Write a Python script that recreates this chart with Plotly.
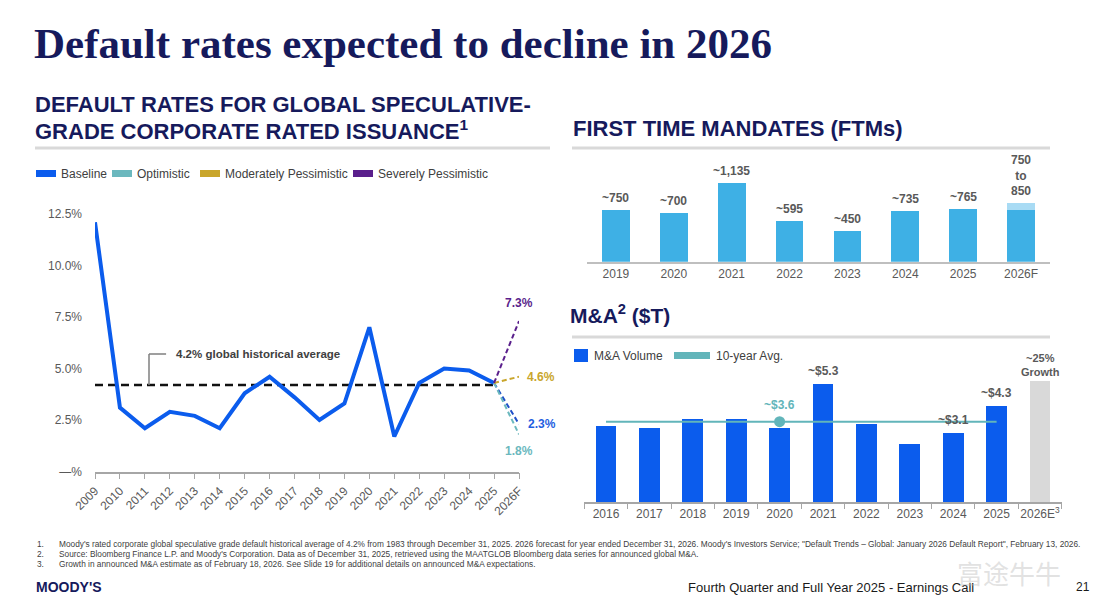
import plotly.graph_objects as go

W, H = 1107, 610


def px(x):
    return x / W


def py(y):
    return 1 - y / H


SANS = "Arial, Liberation Sans, sans-serif"
SERIF = "Times New Roman, Liberation Serif, serif"
NAVY = "#161a5c"
GRAY = "#595959"
DARK = "#404040"

# ---------------- data: default rates ----------------
default_years = ["2009", "2010", "2011", "2012", "2013", "2014", "2015", "2016", "2017",
                 "2018", "2019", "2020", "2021", "2022", "2023", "2024", "2025", "2026F"]
baseline_rates = [12.1, 3.1, 2.1, 2.9, 2.7, 2.1, 3.8, 4.6, 3.6, 2.5, 3.3, 7.0, 1.7, 4.3, 5.0, 4.9, 4.3]
historical_avg = 4.2
scenario_names = ["Baseline", "Optimistic", "Moderately Pessimistic", "Severely Pessimistic"]
scenario_2026 = [2.3, 1.8, 4.6, 7.3]
scenario_labels = ["2.3%", "1.8%", "4.6%", "7.3%"]
rate_ticks = [0, 2.5, 5.0, 7.5, 10.0, 12.5]
rate_ticktext = ["—%", "2.5%", "5.0%", "7.5%", "10.0%", "12.5%"]

# ---------------- data: first time mandates ----------------
ftm_years = ["2019", "2020", "2021", "2022", "2023", "2024", "2025", "2026F"]
ftm_values = [750, 700, 1135, 595, 450, 735, 765, 750]
ftm_2026_high = 850
ftm_labels = ["~750", "~700", "~1,135", "~595", "~450", "~735", "~765", "750<br>to<br>850"]

# ---------------- data: M&A ----------------
ma_years = ["2016", "2017", "2018", "2019", "2020", "2021", "2022", "2023", "2024", "2025", "2026E"]
ma_ticktext = ["2016", "2017", "2018", "2019", "2020", "2021", "2022", "2023", "2024", "2025",
               "2026E<sup>3</sup>"]
ma_volume = [3.4, 3.3, 3.7, 3.7, 3.3, 5.3, 3.5, 2.6, 3.1, 4.3]
ma_2026e = 5.4
ma_10yr_avg = 3.6
ma_labels = {"2021": "~$5.3", "2024": "~$3.1", "2025": "~$4.3"}
ma_2026e_label = "~25%<br>Growth"
ma_avg_year = "2020"
ma_avg_label = "~$3.6"

# ---------------- styles ----------------
scenario_colors = ["#2050c8", "#6bb8be", "#c9a62c", "#5a1f8c"]
legend_colors = ["#0b5ced", "#6bb8be", "#c9a62c", "#5a1f8c"]
label_colors = ["#1f5fe0", "#6bb8be", "#c9a62c", "#5a1f8c"]
BLUE = "#0b5ced"
SKY = "#3eb0e5"
SKY_LIGHT = "#a8dbf4"
TEAL = "#62b5ba"

fig = go.Figure()

# ---- default rate chart ----
fig.add_trace(go.Scatter(
    x=default_years[:-1], y=[historical_avg] * (len(default_years) - 1),
    mode="lines", line=dict(color="#111111", width=2.5, dash="8px,5px"),
    xaxis="x", yaxis="y", hoverinfo="skip"))
fig.add_trace(go.Scatter(
    x=default_years[:-1], y=baseline_rates, mode="lines",
    line=dict(color=BLUE, width=4), xaxis="x", yaxis="y"))
for name, val, col in zip(scenario_names, scenario_2026, scenario_colors):
    fig.add_trace(go.Scatter(
        x=[default_years[-2], default_years[-1]], y=[baseline_rates[-1], val],
        mode="lines", line=dict(color=col, width=2, dash="5px,3px"),
        name=name, xaxis="x", yaxis="y"))

# ---- FTM chart ----
fig.add_trace(go.Bar(x=ftm_years, y=ftm_values, marker=dict(color=SKY, line=dict(width=0)),
                     width=0.48, xaxis="x2", yaxis="y2"))
fig.add_trace(go.Bar(x=[ftm_years[-1]], y=[ftm_2026_high - ftm_values[-1]],
                     marker=dict(color=SKY_LIGHT, line=dict(width=0)),
                     width=0.48, xaxis="x2", yaxis="y2"))

# ---- M&A chart ----
fig.add_trace(go.Bar(x=ma_years[:-1], y=ma_volume, marker=dict(color=BLUE, line=dict(width=0)),
                     width=0.48, xaxis="x3", yaxis="y3"))
fig.add_trace(go.Bar(x=[ma_years[-1]], y=[ma_2026e], marker=dict(color="#d9d9d9", line=dict(width=0)),
                     width=0.48, xaxis="x3", yaxis="y3"))
fig.add_trace(go.Scatter(x=ma_years[:-1], y=[ma_10yr_avg] * len(ma_volume), mode="lines",
                         line=dict(color=TEAL, width=2), xaxis="x3", yaxis="y3"))
fig.add_trace(go.Scatter(x=[ma_avg_year], y=[ma_10yr_avg], mode="markers",
                         marker=dict(color=TEAL, size=11), xaxis="x3", yaxis="y3"))

annotations = []
shapes = []


def text(x, y, s, size=12, color=DARK, bold=False, family=SANS, xanchor="left", yanchor="middle"):
    annotations.append(dict(
        x=px(x), y=py(y), xref="paper", yref="paper", text=("<b>%s</b>" % s) if bold else s,
        showarrow=False, xanchor=xanchor, yanchor=yanchor,
        font=dict(size=size, color=color, family=family)))


# titles
text(32, 43, "Default rates expected to decline in 2026", size=43, color=NAVY, bold=True, family=SERIF)
text(33, 105, "DEFAULT RATES FOR GLOBAL SPECULATIVE-", size=22, color=NAVY, bold=True)
text(33, 130, "GRADE CORPORATE RATED ISSUANCE<sup>1</sup>", size=22, color=NAVY, bold=True)
text(571, 128, "FIRST TIME MANDATES (FTMs)", size=22, color=NAVY, bold=True)
text(568, 314, "M&A<sup>2</sup> ($T)", size=21, color=NAVY, bold=True)

for x0, x1, yy in [(35, 550, 148), (572, 1050, 148), (572, 1050, 337)]:
    shapes.append(dict(type="line", xref="paper", yref="paper", x0=px(x0), x1=px(x1),
                       y0=py(yy), y1=py(yy), line=dict(color="#d9d9d9", width=3)))

# default legend
leg_x = [36, 112, 200, 353]
for lx, name, col in zip(leg_x, scenario_names, legend_colors):
    shapes.append(dict(type="rect", xref="paper", yref="paper", x0=px(lx), x1=px(lx + 20),
                       y0=py(177), y1=py(170), fillcolor=col, line=dict(width=0)))
    text(lx + 23, 174, name, size=12, color=DARK)

# historical average callout
shapes.append(dict(type="line", xref="x", yref="y", x0=2.165, x1=2.165, y0=historical_avg, y1=5.7,
                   line=dict(color="#7f7f7f", width=1.5)))
shapes.append(dict(type="line", xref="x", yref="y", x0=2.165, x1=2.85, y0=5.7, y1=5.7,
                   line=dict(color="#7f7f7f", width=1.5)))
annotations.append(dict(x=3.17, y=5.7, xref="x", yref="y", showarrow=False, xanchor="left",
                        text="<b>4.2% global historical average</b>",
                        font=dict(size=11.5, color=DARK, family=SANS)))

# scenario end labels
label_pos = {  # xanchor, xshift, yshift
    "Baseline": ("left", 7, 0),
    "Optimistic": ("center", 0, -17),
    "Moderately Pessimistic": ("left", 6, 0),
    "Severely Pessimistic": ("center", 0, 18),
}
last_idx = len(default_years) - 1
for name, val, lab, col in zip(scenario_names, scenario_2026, scenario_labels, label_colors):
    xa, xs, ys = label_pos[name]
    annotations.append(dict(x=last_idx, y=val, xref="x", yref="y", showarrow=False,
                            xanchor=xa, xshift=xs, yshift=ys, text="<b>%s</b>" % lab,
                            font=dict(size=12, color=col, family=SANS)))

# FTM labels (category serial numbers as x)
for i, (val, lab) in enumerate(zip(ftm_values, ftm_labels)):
    top = ftm_2026_high if i == len(ftm_values) - 1 else val
    annotations.append(dict(x=i, y=top, xref="x2", yref="y2", showarrow=False,
                            xanchor="center", yanchor="bottom", yshift=3,
                            text="<b>%s</b>" % lab, font=dict(size=12, color=GRAY, family=SANS)))

# M&A legend
shapes.append(dict(type="rect", xref="paper", yref="paper", x0=px(574), x1=px(588),
                   y0=py(362), y1=py(349), fillcolor=BLUE, line=dict(width=0)))
text(592, 356, "M&A Volume", size=12, color=DARK)
shapes.append(dict(type="rect", xref="paper", yref="paper", x0=px(674), x1=px(710),
                   y0=py(359), y1=py(352), fillcolor=TEAL, line=dict(width=0)))
text(714, 356, "10-year Avg.", size=12, color=DARK)

# M&A labels
for i, (yr, val) in enumerate(zip(ma_years[:-1], ma_volume)):
    if yr in ma_labels:
        annotations.append(dict(x=i, y=val, xref="x3", yref="y3", showarrow=False,
                                xanchor="center", yanchor="bottom", yshift=4,
                                text="<b>%s</b>" % ma_labels[yr],
                                font=dict(size=12, color=GRAY, family=SANS)))
annotations.append(dict(x=len(ma_years) - 1, y=ma_2026e, xref="x3", yref="y3", showarrow=False,
                        xanchor="center", yanchor="bottom", yshift=1,
                        text="<b>%s</b>" % ma_2026e_label,
                        font=dict(size=11, color=GRAY, family=SANS)))
annotations.append(dict(x=ma_years.index(ma_avg_year), y=ma_10yr_avg, xref="x3", yref="y3",
                        showarrow=False, xanchor="center", yanchor="middle", yshift=17,
                        text="<b>%s</b>" % ma_avg_label,
                        font=dict(size=12, color=TEAL, family=SANS)))

# footnotes
footnotes = [
    "Moody's rated corporate global speculative grade default historical average of 4.2% from 1983 through "
    "December 31, 2025. 2026 forecast for year ended December 31, 2026. Moody's Investors Service; "
    "\"Default Trends – Global: January 2026 Default Report\", February 13, 2026.",
    "Source: Bloomberg Finance L.P. and Moody's Corporation. Data as of December 31, 2025, retrieved using "
    "the MAATGLOB Bloomberg data series for announced global M&A.",
    "Growth in announced M&A estimate as of February 18, 2026. See Slide 19 for additional details on "
    "announced M&A expectations.",
]
for i, fn in enumerate(footnotes):
    yy = 544 + i * 10
    text(35, yy, "%d." % (i + 1), size=8.3, color=DARK)
    text(57, yy, fn, size=8.3, color=DARK)

text(34, 587, "MOODY'S", size=14, color=NAVY, bold=True)
text(686, 587, "Fourth Quarter and Full Year 2025 - Earnings Call", size=13, color="#1a1a1a")
text(1074, 587, "21", size=12, color="#1a1a1a")
text(955, 572, "富途牛牛", size=26, color="rgba(190,190,190,0.45)",
     family="Noto Sans CJK SC, sans-serif")

axis_font = dict(size=12, color=GRAY, family=SANS)

fig.update_layout(
    width=W, height=H, autosize=False,
    margin=dict(l=0, r=0, t=0, b=0, pad=0),
    paper_bgcolor="white", plot_bgcolor="white",
    showlegend=False, barmode="stack",
    annotations=annotations, shapes=shapes,
    xaxis=dict(domain=[px(95), px(519)], type="category", categoryorder="array",
               categoryarray=default_years, range=[0, 17], anchor="y", automargin=False,
               showline=True, linecolor="#a6a6a6", linewidth=1.5, ticks="outside",
               ticklen=6, tickcolor="#a6a6a6", tickangle=-45, tickfont=axis_font,
               showgrid=False, zeroline=False),
    yaxis=dict(domain=[py(471.5), py(214)], range=[0, 12.5], anchor="x", automargin=False,
               tickvals=rate_ticks, ticktext=rate_ticktext, tickfont=axis_font,
               showgrid=False, zeroline=False, showline=False, ticks="",
               ticklabelstandoff=12),
    xaxis2=dict(domain=[px(587), px(1050)], type="category", categoryorder="array",
                categoryarray=ftm_years, range=[-0.5, 7.5], anchor="y2", automargin=False,
                showline=True, linecolor="#bfbfbf", linewidth=1.5, ticks="", tickangle=0,
                tickfont=axis_font, showgrid=False, zeroline=False),
    yaxis2=dict(domain=[py(261.7), py(150)], range=[0, 1621], anchor="x2", visible=False,
                automargin=False),
    xaxis3=dict(domain=[px(584.3), px(1061.7)], type="category", categoryorder="array",
                categoryarray=ma_years, range=[-0.5, 10.5], anchor="y3", automargin=False,
                tickvals=ma_years, ticktext=ma_ticktext, tickangle=0,
                showline=True, linecolor="#a6a6a6", linewidth=1.5, ticks="outside",
                tickson="boundaries", ticklen=5, tickcolor="#a6a6a6",
                tickfont=axis_font, showgrid=False, zeroline=False),
    yaxis3=dict(domain=[py(502.3), py(345)], range=[0, 7.02], anchor="x3", visible=False,
                automargin=False),
)

fig.write_html("out.html")
